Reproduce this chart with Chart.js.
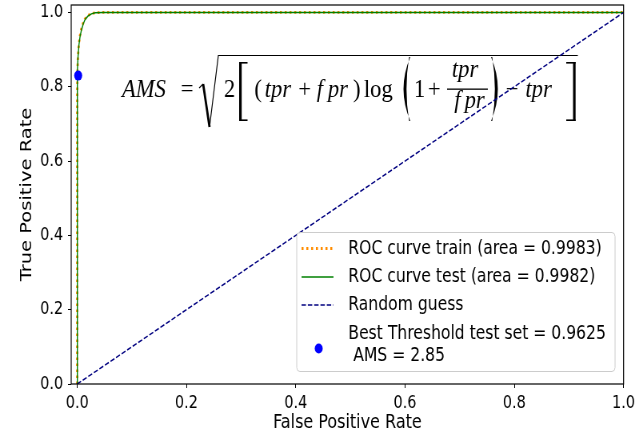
<!DOCTYPE html>
<html>
<head>
<meta charset="utf-8">
<script src="https://cdn.jsdelivr.net/npm/chart.js@4.4.1/dist/chart.umd.min.js"></script>
<style>
  body { margin: 0; background: #fff; }
  #rocChart { display: block; }
</style>
</head>
<body>
<canvas id="rocChart" width="799" height="433" style="width:639px;height:433px"></canvas>
<script>
// ROC curves
const trainFpr = [0, 0, 0.0005, 0.0015, 0.003, 0.005, 0.0075, 0.0105, 0.014, 0.019, 0.025, 0.032, 0.045, 0.1, 0.3, 0.6, 1.0];
const trainTpr = [0, 0.78, 0.845, 0.885, 0.915, 0.937, 0.955, 0.97, 0.982, 0.991, 0.996, 0.999, 1.0, 1.0, 1.0, 1.0, 1.0];
const testFpr = [0, 0, 0.0006, 0.0016, 0.0032, 0.0052, 0.0078, 0.011, 0.0145, 0.0195, 0.026, 0.033, 0.047, 0.1, 0.3, 0.6, 1.0];
const testTpr = [0, 0.78, 0.843, 0.883, 0.913, 0.935, 0.953, 0.969, 0.981, 0.99, 0.996, 0.999, 1.0, 1.0, 1.0, 1.0, 1.0];
const randomFpr = [0, 1];
const randomTpr = [0, 1];
const bestFpr = [0.0018];
const bestTpr = [0.83];

const xTicks = [0, 0.2, 0.4, 0.6, 0.8, 1.0];
const yTicks = [0, 0.2, 0.4, 0.6, 0.8, 1.0];

const legendLabels = [
  ['ROC curve train (area = 0.9983)'],
  ['ROC curve test (area = 0.9982)'],
  ['Random guess'],
  ['Best Threshold test set = 0.9625', ' AMS = 2.85']
];

const toPoints = (xs, ys) => xs.map((x, i) => ({x: x, y: ys[i]}));

const ctx = document.getElementById('rocChart').getContext('2d');

// the picture is squeezed sideways, so the canvas is drawn wider and shrunk by css
const serif = '"Liberation Serif", "DejaVu Serif", serif';

const formulaPlugin = {
  id: 'amsFormula',
  beforeDatasetsDraw(chart) {
    const c = chart.ctx;
    const B = 97;
    const it = 'italic 24.5px ' + serif;
    const rm = '24.5px ' + serif;
    c.save();
    c.fillStyle = '#000';
    c.strokeStyle = '#000';
    c.textBaseline = 'alphabetic';
    // formula glyphs are wider than plain Times, stretch them a bit
    const txt = (s, x, y, f) => {
      c.save();
      c.translate(x, y);
      c.scale(1.15, 1);
      c.font = f;
      c.fillText(s, 0, 0);
      c.restore();
    };

    txt('AMS', 152.5, B, it);
    txt('=', 226, B, rm);

    // square root sign
    c.lineWidth = 1.2;
    c.beginPath(); c.moveTo(249, B - 9); c.lineTo(254, B - 13); c.stroke();
    c.lineWidth = 2.8;
    c.beginPath(); c.moveTo(254, B - 13); c.lineTo(262, 127); c.stroke();
    c.lineWidth = 1.2;
    c.beginPath(); c.moveTo(262, 127); c.lineTo(273, 55.5); c.lineTo(722.5, 55.5); c.stroke();

    txt('2', 280, B, rm);

    // big [
    c.fillRect(299, 62, 3.2, 59);
    c.fillRect(299, 62, 10.5, 1.6);
    c.fillRect(299, 119.4, 10.5, 1.6);

    txt('(', 318, B, rm);
    txt('tpr', 331, B, it);
    txt('+', 373, B, rm);
    txt('f', 396, B, it);
    txt('pr', 410, B, it);
    txt(')', 441.5, B, rm);
    txt('log', 455, B, rm);

    // big ( and )
    const paren = (x0, x1, left) => {
      const tip = left ? x1 : x0;
      const outer = left ? x0 - 3 : x1 + 3;
      const inner = left ? x0 + 6 : x1 - 6;
      const tipIn = left ? tip - 1.5 : tip + 1.5;
      c.beginPath();
      c.moveTo(tip, 57);
      c.quadraticCurveTo(outer, 89, tip, 121);
      c.lineTo(tipIn, 121);
      c.quadraticCurveTo(inner, 89, tipIn, 57);
      c.closePath();
      c.fill();
    };
    paren(499, 513, true);
    txt('1', 517.5, B, rm);
    txt('+', 535, B, rm);

    // fraction tpr / fpr
    txt('tpr', 565, 77, it);
    c.fillRect(559, 88.5, 51, 1.3);
    txt('f', 568, 108, it);
    txt('pr', 581, 108, it);
    paren(614, 628, false);

    txt('\u2212', 632.5, B, rm);
    txt('tpr', 657, B, it);

    // big ]
    c.fillRect(716.5, 62, 3.2, 59);
    c.fillRect(708, 62, 11.7, 1.6);
    c.fillRect(708, 119.4, 11.7, 1.6);
    c.restore();
  }
};

const legendPlugin = {
  id: 'rocLegend',
  afterDatasetsDraw(chart) {
    const c = chart.ctx;
    const a = chart.chartArea;
    c.save();
    // frame round the plot
    c.strokeStyle = '#000';
    c.lineWidth = 1.2;
    c.strokeRect(a.left, a.top, a.right - a.left, a.bottom - a.top);

    // legend box
    c.fillStyle = 'rgba(255,255,255,0.8)';
    c.strokeStyle = '#cccccc';
    c.lineWidth = 1;
    c.beginPath();
    c.roundRect(371, 232.5, 398, 139, 4);
    c.fill();
    c.stroke();

    const rows = [248.5, 277, 305, 333.5];
    const lineGap = 22.5;
    const ds = chart.data.datasets;
    const handles = [ds[3], ds[2], ds[1], ds[0]];
    c.font = '19.5px "DejaVu Sans"';
    c.textBaseline = 'middle';
    handles.forEach((d, i) => {
      const y = rows[i];
      if (i < 3) {
        c.strokeStyle = d.borderColor;
        c.lineWidth = d.borderWidth;
        c.setLineDash(d.borderDash || []);
        c.beginPath();
        c.moveTo(377, y);
        c.lineTo(417, y);
        c.stroke();
        c.setLineDash([]);
      } else {
        c.fillStyle = d.backgroundColor;
        c.beginPath();
        c.ellipse(398.5, y + 15, d.pointRadius, d.pointRadius, 0, 0, Math.PI * 2);
        c.fill();
      }
      c.fillStyle = '#000';
      legendLabels[i].forEach((t, k) => c.fillText(t, 435.5, y + k * lineGap));
    });
    c.restore();
  }
};

const rocChart = new Chart(ctx, {
  type: 'scatter',
  data: {
    datasets: [
      {
        label: 'Best Threshold',
        data: toPoints(bestFpr, bestTpr),
        backgroundColor: 'blue',
        borderWidth: 0,
        pointRadius: 5
      },
      {
        label: 'Random guess',
        data: toPoints(randomFpr, randomTpr),
        showLine: true,
        borderColor: '#000080',
        borderWidth: 1.5,
        borderDash: [5.5, 2.4],
        pointRadius: 0
      },
      {
        label: 'ROC curve test',
        data: toPoints(testFpr, testTpr),
        showLine: true,
        borderColor: '#008000',
        borderWidth: 1.4,
        pointRadius: 0
      },
      {
        label: 'ROC curve train',
        data: toPoints(trainFpr, trainTpr),
        showLine: true,
        borderColor: '#ff8c00',
        borderWidth: 2.8,
        borderDash: [2.5, 3.5],
        pointRadius: 0
      }
    ]
  },
  options: {
    responsive: false,
    animation: false,
    devicePixelRatio: 1,
    layout: { padding: { top: 5, right: 19, left: 0, bottom: 0 } },
    plugins: {
      legend: { display: false },
      tooltip: { enabled: false }
    },
    scales: {
      x: {
        type: 'linear',
        min: -0.011,
        max: 1.0,
        afterBuildTicks: (s) => { s.ticks = xTicks.map(v => ({value: v})); },
        afterFit: (s) => { s.height = 49; },
        ticks: {
          color: '#000',
          font: { family: 'DejaVu Sans', size: 18 },
          padding: 5,
          maxRotation: 0,
          callback: (v) => v.toFixed(1)
        },
        grid: { drawOnChartArea: false, drawTicks: true, tickLength: 4, color: '#000' },
        border: { display: false },
        title: {
          display: true,
          text: 'False Positive Rate',
          color: '#000',
          font: { family: 'DejaVu Sans', size: 20, lineHeight: 1.0 },
          padding: { top: 0, bottom: 0 }
        }
      },
      y: {
        type: 'linear',
        min: 0,
        max: 1.02,
        afterBuildTicks: (s) => { s.ticks = yTicks.map(v => ({value: v})); },
        afterFit: (s) => { s.width = 89; s.paddingTop = 0; s.paddingBottom = 0; },
        ticks: {
          color: '#000',
          font: { family: 'DejaVu Sans', size: 18 },
          padding: 6,
          callback: (v) => v.toFixed(1)
        },
        grid: { drawOnChartArea: false, drawTicks: true, tickLength: 4, color: '#000' },
        border: { display: false },
        title: {
          display: true,
          text: 'True Positive Rate',
          color: '#000',
          font: { family: 'DejaVu Sans', size: 19.5, lineHeight: 1.2 },
          padding: { top: 22, bottom: 0 }
        }
      }
    }
  },
  plugins: [formulaPlugin, legendPlugin]
});
</script>
</body>
</html>
